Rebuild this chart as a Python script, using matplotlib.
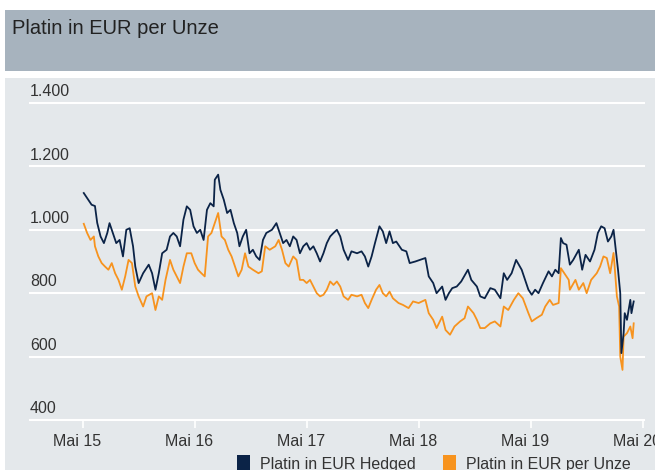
import matplotlib
matplotlib.use("Agg")
import matplotlib.pyplot as plt
import matplotlib.transforms as mtransforms
from matplotlib.patches import Rectangle

plt.rcParams['font.family'] = ['Liberation Sans', 'DejaVu Sans']

# --- data (decimal years, EUR per ounce) ---
hedged_t = [2015.34, 2015.37, 2015.41, 2015.44, 2015.46, 2015.49, 2015.52, 2015.55, 2015.57, 2015.60,
            2015.63, 2015.66, 2015.69, 2015.72, 2015.75, 2015.78, 2015.80, 2015.83, 2015.87, 2015.92,
            2015.95, 2015.98, 2016.01, 2016.04, 2016.08, 2016.11, 2016.14, 2016.17, 2016.20, 2016.23,
            2016.26, 2016.29, 2016.32, 2016.35, 2016.38, 2016.41, 2016.44, 2016.47, 2016.50, 2016.51,
            2016.54, 2016.56, 2016.59, 2016.62, 2016.65, 2016.68, 2016.71, 2016.73, 2016.76, 2016.79,
            2016.82, 2016.85, 2016.88, 2016.91, 2016.94, 2016.97, 2017.02, 2017.06, 2017.09, 2017.12,
            2017.15, 2017.18, 2017.21, 2017.24, 2017.27, 2017.30, 2017.33, 2017.36, 2017.39, 2017.42,
            2017.45, 2017.48, 2017.51, 2017.54,
            2017.57, 2017.60, 2017.63, 2017.66, 2017.70, 2017.73, 2017.78, 2017.82, 2017.85, 2017.88,
            2017.91, 2017.94, 2017.98, 2018.01, 2018.04, 2018.07, 2018.10, 2018.13, 2018.18, 2018.22,
            2018.25, 2018.30, 2018.34, 2018.39, 2018.42, 2018.46, 2018.49, 2018.54, 2018.57, 2018.60,
            2018.63, 2018.67, 2018.71, 2018.77, 2018.80, 2018.85, 2018.88, 2018.92, 2018.97, 2019.01,
            2019.06, 2019.09, 2019.12, 2019.16, 2019.20, 2019.25, 2019.28, 2019.31, 2019.34, 2019.37,
            2019.40, 2019.44, 2019.49, 2019.52, 2019.55, 2019.58, 2019.60, 2019.62, 2019.65, 2019.68,
            2019.71, 2019.76, 2019.79, 2019.82, 2019.86, 2019.90, 2019.93, 2019.96, 2019.99, 2020.02,
            2020.05, 2020.07, 2020.09, 2020.11, 2020.13, 2020.14, 2020.16, 2020.17, 2020.19, 2020.22,
            2020.23, 2020.25]
hedged = [1116, 1100, 1079, 1075, 1022, 979, 958, 990, 1021, 990,
          958, 968, 916, 1000, 1005, 948, 884, 832, 863, 890,
          863, 811, 863, 926, 937, 979, 990, 979, 948, 1032,
          1074, 1063, 1011, 990, 1000, 968, 1063, 1084, 1074, 1158,
          1174, 1126, 1095, 1053, 1063, 1021, 990, 948, 979, 1000,
          926, 937, 916, 905, 968, 990, 1000, 1021, 990, 958,
          968, 948, 979, 968, 926, 948, 958, 937, 948, 926,
          900, 926, 958, 979,
          990, 1000, 979, 937, 905, 932, 926, 932, 916, 884,
          916, 958, 1011, 995, 958, 995, 958, 963, 937, 932,
          895, 900, 905, 911, 853, 832, 800, 821, 779, 800,
          816, 821, 837, 874, 842, 821, 790, 784, 816, 811,
          784, 863, 842, 863, 905, 874, 842, 811, 795, 811,
          800, 832, 869, 853, 874, 863, 974, 958, 953, 890,
          905, 937, 874, 921, 900, 937, 990, 1011, 1005, 963,
          979, 1000, 937, 874, 800, 611, 674, 737, 716, 779,
          737, 774]

unze_t = [2015.34, 2015.37, 2015.40, 2015.43, 2015.44, 2015.47, 2015.50, 2015.53, 2015.56, 2015.59,
          2015.62, 2015.65, 2015.68, 2015.71, 2015.74, 2015.77, 2015.80, 2015.83, 2015.87, 2015.90,
          2015.95, 2015.98, 2016.01, 2016.04, 2016.07, 2016.11, 2016.14, 2016.17, 2016.20, 2016.23,
          2016.26, 2016.30, 2016.33, 2016.36, 2016.39, 2016.42, 2016.45, 2016.48, 2016.51, 2016.54,
          2016.57, 2016.60, 2016.63, 2016.66, 2016.69, 2016.72, 2016.75, 2016.78, 2016.81, 2016.85,
          2016.90, 2016.93, 2016.96, 2017.00, 2017.05, 2017.08, 2017.11, 2017.14, 2017.17, 2017.21,
          2017.24, 2017.27, 2017.30, 2017.33, 2017.36, 2017.39, 2017.42, 2017.45, 2017.48, 2017.51,
          2017.54,
          2017.57, 2017.60, 2017.63, 2017.66, 2017.70, 2017.73, 2017.78, 2017.82, 2017.85, 2017.88,
          2017.91, 2017.95, 2017.98, 2018.01, 2018.04, 2018.07, 2018.10, 2018.15, 2018.19, 2018.24,
          2018.28, 2018.33, 2018.39, 2018.42, 2018.46, 2018.49, 2018.54, 2018.57, 2018.61, 2018.65,
          2018.70, 2018.74, 2018.77, 2018.82, 2018.85, 2018.88, 2018.92, 2018.97, 2019.01, 2019.06,
          2019.09, 2019.13, 2019.18, 2019.22, 2019.26, 2019.31, 2019.34, 2019.38, 2019.43, 2019.46,
          2019.50, 2019.53, 2019.58, 2019.60, 2019.64, 2019.67, 2019.68, 2019.73, 2019.76, 2019.80,
          2019.83, 2019.87, 2019.92, 2019.95, 2019.98, 2020.01, 2020.04, 2020.07, 2020.08, 2020.10,
          2020.12, 2020.13, 2020.15, 2020.16, 2020.19, 2020.22, 2020.24, 2020.25]
unze = [1019, 990, 968, 979, 948, 916, 895, 884, 874, 895,
        863, 842, 811, 853, 905, 895, 821, 790, 758, 790,
        800, 747, 790, 779, 842, 905, 874, 853, 832, 884,
        926, 926, 895, 874, 863, 853, 979, 990, 1021, 1053,
        979, 968, 937, 916, 884, 853, 874, 926, 884, 874,
        863, 869, 948, 937, 948, 968, 937, 895, 884, 916,
        905, 842, 842, 832, 842, 821, 800, 790, 795, 811,
        837,
        826, 837, 821, 790, 779, 795, 790, 795, 769, 753,
        779, 811, 826, 800, 790, 805, 784, 769, 763, 753,
        774, 769, 779, 737, 716, 690, 726, 684, 669, 695,
        711, 721, 758, 737, 716, 690, 690, 705, 711, 695,
        758, 747, 779, 800, 784, 737, 711, 721, 732, 758,
        779, 763, 769, 879, 858, 842, 811, 842, 811, 832,
        800, 842, 863, 884, 916, 911, 863, 927, 884, 790,
        758, 600, 558, 663, 674, 695, 658, 705]

y_ticks = [400, 600, 800, 1000, 1200, 1400]
y_labels = ["400", "600", "800", "1.000", "1.200", "1.400"]
x_ticks = [2015.333, 2016.333, 2017.333, 2018.333, 2019.333, 2020.333]
x_labels = ["Mai 15", "Mai 16", "Mai 17", "Mai 18", "Mai 19", "Mai 20"]
series_names = ["Platin in EUR Hedged", "Platin in EUR per Unze"]

navy = "#0b2347"
orange = "#f7931e"
text_col = "#333333"

fig = plt.figure(figsize=(6.55, 4.70), dpi=100)
W, H = 655, 470

# header banner and panel background (drawn beneath the axes)
fig.patches.append(Rectangle((5 / W, 1 - 71 / H), 650 / W, 61 / H, transform=fig.transFigure,
                             facecolor="#a7b3be", edgecolor="none", zorder=-10))
fig.patches.append(Rectangle((5 / W, 0), 650 / W, 1 - 78 / H, transform=fig.transFigure,
                             facecolor="#e4e8eb", edgecolor="none", zorder=-10))
fig.text(12 / W, 1 - 28 / H, "Platin in EUR per Unze", fontsize=14.5, color="#222222",
         va="center", ha="left")

ax = fig.add_axes([30 / W, 1 - 420 / H, 614 / W, 317 / H])
ax.set_facecolor("none")
ax.plot(hedged_t, hedged, color=navy, lw=1.3, zorder=3)
ax.plot(unze_t, unze, color=orange, lw=1.3, zorder=2)

ax.set_xlim(2014.86, 2020.342)
ax.set_ylim(400, 1400)
for s in ["top", "right", "left"]:
    ax.spines[s].set_visible(False)
ax.spines["bottom"].set_color("white")
ax.spines["bottom"].set_linewidth(1.5)
ax.spines["bottom"].set_zorder(1)

for v in y_ticks[1:]:
    ax.axhline(v, color="white", lw=1.5, zorder=1, clip_on=False)
ax.set_yticks([])
for v, lab in zip(y_ticks, y_labels):
    ax.text(0, v + 12, lab, transform=ax.get_yaxis_transform(), ha="left", va="bottom",
            fontsize=11.5, color=text_col)

ax.set_xticks(x_ticks)
ax.set_xticklabels(x_labels, fontsize=11.5, color=text_col)
ax.tick_params(axis="x", length=6, width=1.2, color="white", pad=4)
shift = mtransforms.ScaledTranslation(-6 / 100, 0, fig.dpi_scale_trans)
for lab in ax.get_xticklabels():
    lab.set_transform(lab.get_transform() + shift)

# legend along the bottom
for x0, col, name in [(237, navy, series_names[0]), (443, orange, series_names[1])]:
    fig.patches.append(Rectangle((x0 / W, 0), 13 / W, 15 / H, transform=fig.transFigure,
                                 facecolor=col, edgecolor="none"))
    fig.text((x0 + 23) / W, 6 / H, name, fontsize=11.5, color=text_col, va="center", ha="left")

fig.savefig("out.png", dpi=100)
